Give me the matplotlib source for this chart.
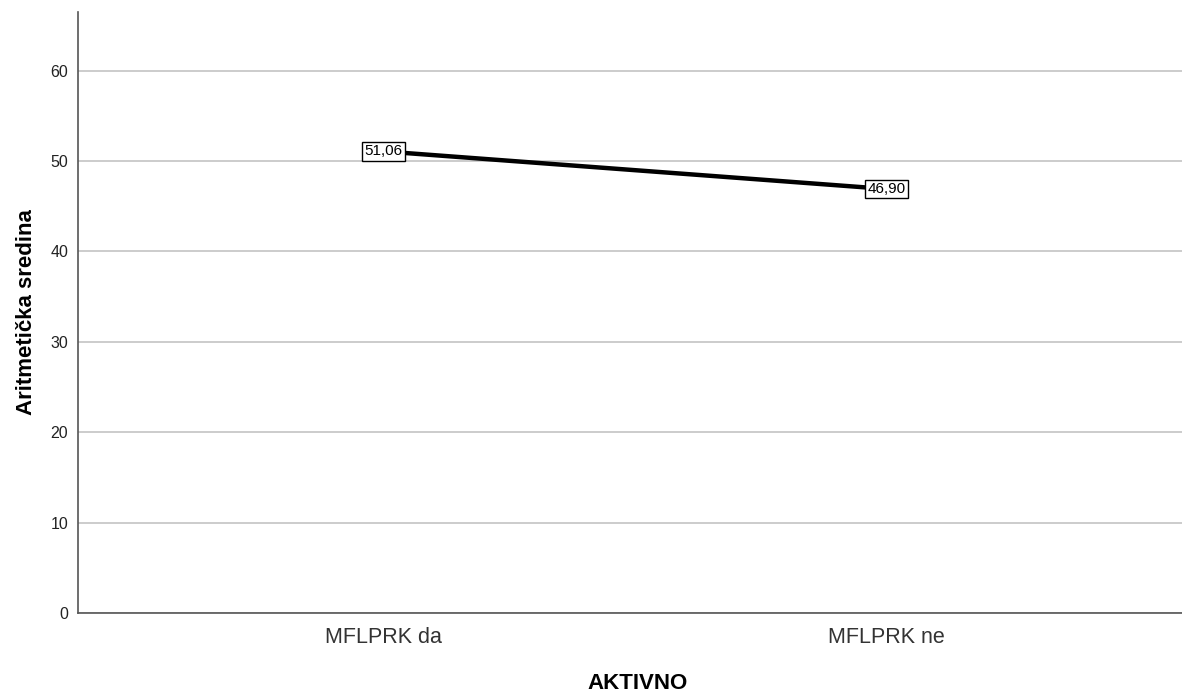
import matplotlib
matplotlib.use("Agg")
import matplotlib.pyplot as plt

categories = ['MFLPRK da', 'MFLPRK ne']
means = [51.06, 46.90]
labels = ['51,06', '46,90']
yticks = [0, 10, 20, 30, 40, 50, 60]

plt.rcParams['font.family'] = ['Liberation Sans', 'DejaVu Sans']

fig = plt.figure(figsize=(11.82, 6.95), dpi=100)
ax = fig.add_axes([0.066, 0.118, 0.934, 0.865])

x = list(range(len(categories)))
ax.plot(x, means, color='black', linewidth=3.2, solid_capstyle='butt', zorder=3)
for xi, yi, lab in zip(x, means, labels):
    ax.text(xi, yi, lab, ha='center', va='center', fontsize=11, zorder=4,
            bbox=dict(boxstyle='square,pad=0.15', facecolor='white', edgecolor='black', linewidth=1))

ax.set_xlim(-0.608, 1.587)
ax.set_ylim(0, 66.5)
ax.set_yticks(yticks)
ax.set_xticks(x)
ax.set_xticklabels(categories, fontsize=15.5, color='#333333')
ax.tick_params(axis='y', length=0, labelsize=11.5, pad=7, colors='#222222')
ax.tick_params(axis='x', length=0, pad=10)
ax.yaxis.grid(True, color='#c8c8c8', linewidth=1.3)
ax.set_axisbelow(True)
for s in ['top', 'right']:
    ax.spines[s].set_visible(False)
for s in ['left', 'bottom']:
    ax.spines[s].set_color('#555555')
    ax.spines[s].set_linewidth(1.2)

ax.set_ylabel('Aritmetička sredina', fontsize=16, fontweight='bold', labelpad=10)
ax.set_xlabel('AKTIVNO', fontsize=16, fontweight='bold')
ax.xaxis.set_label_coords(0.507, -0.117)
ax.xaxis.label.set_va('center')

fig.savefig('out.png', dpi=100)
